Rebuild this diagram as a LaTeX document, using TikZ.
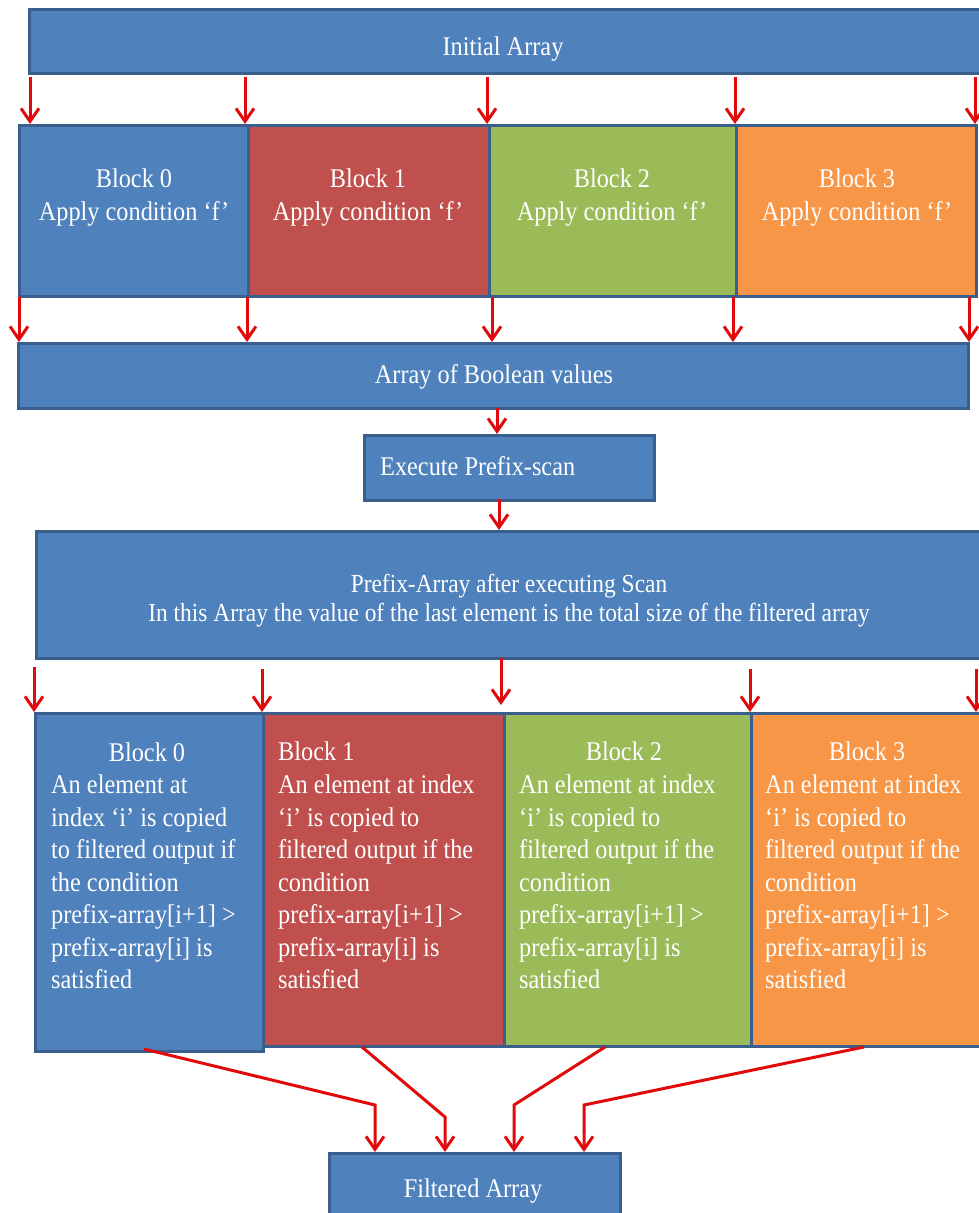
\documentclass[tikz,border=0pt]{standalone}
\usepackage{fontspec}
\setmainfont{Liberation Serif}[FakeStretch=0.9]
\usetikzlibrary{arrows.meta,calc}

\definecolor{boxblue}{HTML}{4F81BD}
\definecolor{boxred}{HTML}{C0504D}
\definecolor{boxgreen}{HTML}{9BBB59}
\definecolor{boxorange}{HTML}{F79646}
\definecolor{edge}{HTML}{3A5F8C}
\definecolor{flow}{HTML}{E10A0A}

\tikzset{
  panel/.style={draw=edge, line width=2.8pt, inner sep=0pt, anchor=north west},
  lbl/.style={text=white, inner sep=0pt, font=\fontsize{27}{33}\selectfont},
  body/.style={lbl, align=left, anchor=north west, font=\fontsize{27}{32.5}\selectfont},
  flowarrow/.style={draw=flow, line width=3pt, -{Straight Barb[length=13pt,width=18pt]}}
}

\begin{document}
\begin{tikzpicture}[x=1pt,y=-1pt]
\useasboundingbox (0,0) rectangle (978,1213);
\fill[white] (0,0) rectangle (978,1213);

% ---- initial array ----
\node[panel, fill=boxblue, minimum width=962pt, minimum height=64pt] (init) at (28,8) {};
\node[lbl, anchor=base] (initt) at (503,55) {Initial Array};

% ---- per-block condition ----
\node[panel, fill=boxblue,   minimum width=229pt, minimum height=171pt] (p0) at (18,124) {};
\node[panel, fill=boxred,    minimum width=241pt, minimum height=171pt] (p1) at (247,124) {};
\node[panel, fill=boxgreen,  minimum width=247pt, minimum height=171pt] (p2) at (488,124) {};
\node[panel, fill=boxorange, minimum width=240pt, minimum height=171pt] (p3) at (735,124) {};
\node[lbl, align=center, anchor=north] (p0t) at (134,169) {Block 0\\Apply condition ‘f’};
\node[lbl, align=center, anchor=north] (p1t) at (368,169) {Block 1\\Apply condition ‘f’};
\node[lbl, align=center, anchor=north] (p2t) at (612,169) {Block 2\\Apply condition ‘f’};
\node[lbl, align=center, anchor=north] (p3t) at (857,169) {Block 3\\Apply condition ‘f’};

% arrows: initial array -> blocks
\foreach \i/\x in {0/30,1/245,2/487,3/735,4/975}{
  \coordinate (ia\i) at (\x,77);
  \coordinate (ib\i) at (\x,124);
}
\foreach \i in {0,...,4}{ \draw[flowarrow] (ia\i) -- (ib\i); }

% ---- boolean array ----
\node[panel, fill=boxblue, minimum width=950pt, minimum height=65pt] (bool) at (17,342) {};
\node[lbl, anchor=base] (boolt) at (494,383) {Array of Boolean values};

\foreach \i/\x in {0/19,1/247,2/492,3/733,4/969}{
  \coordinate (ba\i) at (\x,297);
  \coordinate (bb\i) at (\x,342);
}
\foreach \i in {0,...,4}{ \draw[flowarrow] (ba\i) -- (bb\i); }

% ---- prefix scan ----
\node[panel, fill=boxblue, minimum width=290pt, minimum height=65pt] (exec) at (363,434) {};
\node[lbl, anchor=base west] (exect) at (380,475) {Execute Prefix-scan};
\coordinate (e0) at (497,408);
\coordinate (e1) at (497,434);
\draw[flowarrow] (e0) -- (e1);

\node[panel, fill=boxblue, minimum width=960pt, minimum height=127pt] (pre) at (35,530) {};
\node[lbl, align=center, anchor=north, font=\fontsize{26}{29}\selectfont] (pret) at (509,574)
  {Prefix-Array after executing Scan\\In this Array the value of the last element is the total size of the filtered array};
\coordinate (e2) at (499,499);
\coordinate (e3) at (499,530);
\draw[flowarrow] (e2) -- (e3);

% ---- copy blocks ----
\node[panel, fill=boxred,    minimum width=241pt, minimum height=333pt] (q1) at (262,712) {};
\node[panel, fill=boxgreen,  minimum width=247pt, minimum height=333pt] (q2) at (503,712) {};
\node[panel, fill=boxorange, minimum width=245pt, minimum height=333pt] (q3) at (750,712) {};
\node[panel, fill=boxblue,   minimum width=228pt, minimum height=338pt] (q0) at (34,712) {};

\node[lbl, anchor=base] (q0h) at (147,761) {Block 0};
\node[body] (q0b) at (51,775) {An element at\\index ‘i’ is copied\\to filtered output if\\the condition\\prefix-array[i+1] >\\prefix-array[i] is\\satisfied};
\node[lbl, anchor=base west] (q1h) at (278,760) {Block 1};
\node[body] (q1b) at (278,775) {An element at index\\‘i’ is copied to\\filtered output if the\\condition\\prefix-array[i+1] >\\prefix-array[i] is\\satisfied};
\node[lbl, anchor=base] (q2h) at (624,760) {Block 2};
\node[body] (q2b) at (519,775) {An element at index\\‘i’ is copied to\\filtered output if the\\condition\\prefix-array[i+1] >\\prefix-array[i] is\\satisfied};
\node[lbl, anchor=base] (q3h) at (867,760) {Block 3};
\node[body] (q3b) at (765,775) {An element at index\\‘i’ is copied to\\filtered output if the\\condition\\prefix-array[i+1] >\\prefix-array[i] is\\satisfied};

\foreach \i/\x/\y in {0/34/667,1/262/669,2/501/658,3/750/669,4/976/669}{
  \coordinate (qa\i) at (\x,\y);
}
\foreach \i/\x/\y in {0/34/712,1/262/712,2/501/705,3/750/712,4/976/712}{
  \coordinate (qb\i) at (\x,\y);
}
\foreach \i in {0,...,4}{ \draw[flowarrow] (qa\i) -- (qb\i); }

% ---- filtered output ----
\node[panel, fill=boxblue, minimum width=291pt, minimum height=80pt] (fa) at (328,1152) {};
\node[lbl, anchor=base] (fat) at (473,1197) {Filtered Array};

\coordinate (s0) at (144,1049); \coordinate (k0) at (375,1105); \coordinate (t0) at (375,1152);
\coordinate (s1) at (362,1047); \coordinate (k1) at (445,1117); \coordinate (t1) at (445,1152);
\coordinate (s2) at (605,1047); \coordinate (k2) at (514,1105); \coordinate (t2) at (514,1152);
\coordinate (s3) at (864,1047); \coordinate (k3) at (584,1105); \coordinate (t3) at (584,1152);
\foreach \i in {0,...,3}{ \draw[flowarrow] (s\i) -- (k\i) -- (t\i); }
\end{tikzpicture}
\end{document}
